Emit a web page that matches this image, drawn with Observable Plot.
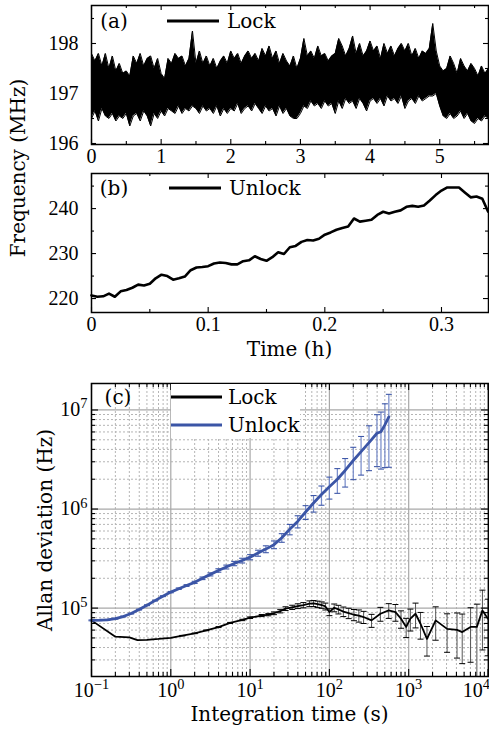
<!DOCTYPE html>
<html><head><meta charset="utf-8">
<script src="https://cdn.jsdelivr.net/npm/d3@7"></script>
<script src="https://cdn.jsdelivr.net/npm/@observablehq/plot@0.6"></script>
<style>
body{margin:0;background:#fff;}
#wrap{width:489px;height:733px;overflow:hidden;font-family:"Liberation Serif",serif;background:#fff;}
#wrap > svg{display:block;}
</style></head><body>
<div id="wrap"></div>
<script>
// ---------- DATA ----------
// (a) Lock: frequency envelope (MHz), sampled every 0.05 h from 0 to 5.7 h
const lockStepH = 0.05;
const lockHi = [197.8,197.65,197.8,197.55,197.8,197.5,197.75,197.45,197.6,197.4,197.45,197.35,197.75,197.6,197.8,197.55,197.7,197.75,197.5,197.7,
197.4,197.3,197.7,197.6,197.8,197.7,197.75,197.55,197.7,198.25,197.6,197.85,197.6,197.75,197.55,197.7,197.5,197.65,197.75,197.6,
197.85,197.7,197.8,197.6,197.75,197.85,197.7,197.8,197.65,197.9,197.75,197.95,197.7,197.85,197.6,197.8,197.65,197.55,197.75,197.5,
197.7,198.1,197.75,197.85,197.7,197.95,197.75,197.8,197.65,197.75,197.8,198.1,197.95,197.75,197.9,198.15,197.8,198.0,197.75,197.85,
198.05,197.85,197.95,197.7,198.0,197.8,197.95,197.75,197.9,198.0,197.85,198.0,197.75,197.9,197.7,197.85,197.8,197.9,198.4,197.85,
197.55,197.45,197.5,197.75,197.6,197.4,197.7,197.55,197.45,197.6,197.5,197.35,197.55,197.4,197.5];
const lockLo = [196.5,196.65,196.45,196.7,196.55,196.5,196.6,196.45,196.55,196.5,196.6,196.35,196.55,196.6,196.45,196.65,196.55,196.35,196.6,196.5,
196.65,196.55,196.7,196.65,196.6,196.75,196.6,196.7,196.65,196.75,196.7,196.6,196.75,196.65,196.7,196.6,196.75,196.55,196.7,196.6,
196.7,196.65,196.8,196.6,196.7,196.75,196.65,196.8,196.7,196.6,196.75,196.65,196.7,196.55,196.75,196.6,196.7,196.55,196.5,196.5,
196.6,196.75,196.7,196.85,196.75,196.8,196.7,196.85,196.75,196.8,196.6,196.85,196.7,196.9,196.8,196.85,196.7,196.9,196.8,196.65,
196.85,196.9,196.8,196.9,196.75,196.95,196.85,196.9,196.8,196.95,196.7,196.85,196.9,196.8,196.95,196.85,196.9,196.95,196.95,197.0,
196.75,196.55,196.5,196.6,196.5,196.55,196.65,196.5,196.6,196.45,196.4,196.5,196.45,196.55,196.5];

// (b) Unlock: frequency (MHz), sampled every 0.005 h from 0 to 0.34 h
const unlockStepH = 0.005;
const unlockFreq = [220.7,220.4,220.5,221.1,220.4,221.6,221.9,222.4,223.1,222.9,
223.3,224.5,225.3,225.0,224.2,224.5,224.9,226.3,226.9,227.0,
227.2,227.8,228.0,227.9,227.6,227.6,228.3,228.5,229.4,228.8,
228.4,229.2,230.3,229.9,231.4,231.7,232.6,233.0,232.9,233.3,
234.2,234.7,235.3,235.7,236.0,237.8,237.1,237.3,237.5,238.6,
239.3,238.9,239.3,239.6,240.4,240.6,240.4,240.7,241.8,243.0,
244.0,244.7,244.7,244.7,243.6,242.5,242.7,242.2,239.3];

// (c) Allan deviation (Hz) vs integration time (s)
const lockTau = [0.1,0.2,0.3,0.38,0.5,0.7,1,1.4,2,2.8,4,5.6,8,10,14,17,20,24,28,34,40,47,56,63,71,80,89,100,115,130,
150,175,204,235,270,340,440,560,680,800,930,1050,1220,1410,1700,2190,3050,4070,4730,6030,7240,8510,10000];
const lockSigma = [75200,51500,50700,47500,47900,48800,50100,52700,55600,59600,64300,70800,75900,80000,84100,86000,88700,93000,98800,101900,
104700,107200,110900,111500,109600,107500,104000,91200,100900,97000,92300,89000,85700,84000,81300,75200,87700,94800,91200,78200,
64600,78200,87700,69500,49000,75200,61700,60300,57300,64600,64600,94800,78000];
const lockErr = [0,0,0,0,0,0,0,300,400,500,700,900,1200,1500,2000,2400,2800,3500,4300,5000,
5800,6500,7400,7800,8000,8000,8300,7300,9100,9700,10200,10700,11100,11800,11400,11300,14000,16100,17500,15600,
14200,19500,24600,20900,16200,27800,25900,29000,29800,36200,45000,57000,45000];

const unlockTau = [0.1,0.126,0.158,0.2,0.251,0.316,0.398,0.501,0.631,0.794,1,1.26,1.58,2,2.51,3.16,3.98,5.01,6.31,7.94,
10,12.6,15.8,20,25.1,31.6,39.8,50.1,63.1,79.4,100,126,158,200,251,316,398,447,501,562];
const unlockSigma = [75200,75500,76200,78200,82200,88100,96600,107000,119000,132000,145000,157000,169000,182000,200000,219000,240000,260000,282000,302000,
327000,359000,394000,437000,513000,624000,750000,933000,1150000,1400000,1680000,2000000,2450000,3090000,3800000,4680000,5820000,6030000,7080000,8510000];
const unlockErr = [750,755,762,782,822,881,966,1070,1190,1320,2200,2800,3400,4500,6000,7700,9600,11700,14100,16600,
19600,25100,31500,39300,51300,74900,105000,149000,219000,308000,420000,560000,784000,1110000,1600000,2240000,3140000,3500000,4460000,5870000];

// tick labels
const aXTicks = [0,1,2,3,4,5], aYTicks = [196,197,198];
const bXTicks = [0,0.1,0.2,0.3], bYTicks = [220,230,240];
const cXTicks = [0.1,1,10,100,1000,10000], cYTicks = [1e5,1e6,1e7];
const legendA = ["(a)","Lock"], legendB = ["(b)","Unlock"], legendC = ["(c)","Lock","Unlock"];
const freqLabel = "Frequency (MHz)";

// ---------- helpers ----------
const FONT = "Liberation Serif";
const WFONT = "DejaVu Serif";
const W = 489, ML = 91, MR = 1;
const BLUE = "#3b55a6";
const style = {fontFamily: FONT, fontSize: "20px", background: "transparent", overflow: "visible", color: "#000"};
const plain = d => String(d);

function ticksX(vals, len, innerH, o = {}) {
  return [
    Plot.ruleX(vals, {x: d => d, insetTop: innerH - len, stroke: "#000", strokeWidth: 1.1, ...o}),
    Plot.ruleX(vals, {x: d => d, insetBottom: innerH - len, stroke: "#000", strokeWidth: 1.1, ...o})
  ];
}
function ticksY(vals, len, innerW, o = {}) {
  return [
    Plot.ruleY(vals, {y: d => d, insetRight: innerW - len, stroke: "#000", strokeWidth: 1.1, ...o}),
    Plot.ruleY(vals, {y: d => d, insetLeft: innerW - len, stroke: "#000", strokeWidth: 1.1, ...o})
  ];
}
function supify(svg) {
  d3.select(svg).selectAll("text").each(function () {
    const m = /^10\^(-?\d+)$/.exec(this.textContent);
    if (m) {
      this.textContent = "10";
      d3.select(this).append("tspan").attr("dy", "-0.55em").attr("font-size", "0.72em")
        .text(m[1].replace("-", "\u2212"));
    }
  });
}
function legend(svg, items) {
  const g = d3.select(svg).append("g").attr("font-family", WFONT).attr("font-size", 20).attr("fill", "#000");
  for (const it of items) {
    if (it.rect) g.append("rect").attr("x", it.x).attr("y", it.y).attr("width", it.w).attr("height", it.h).attr("fill", "#fff");
    else if (it.line) g.append("line").attr("x1", it.x1).attr("x2", it.x2).attr("y1", it.y).attr("y2", it.y)
      .attr("stroke", it.color).attr("stroke-width", it.sw || 3);
    else g.append("text").attr("transform", `translate(${it.x},${it.y})` + (it.rot ? ` rotate(${it.rot})` : ""))
      .attr("dominant-baseline", "central").attr("text-anchor", it.anchor || "start").text(it.text);
  }
}

const outer = d3.select("#wrap").append("svg").attr("width", W).attr("height", 733)
  .attr("viewBox", `0 0 ${W} 733`).style("background", "#fff");
function place(svg, top, H) {
  svg.setAttribute("x", 0);
  svg.setAttribute("y", top);
  svg.setAttribute("width", W);
  svg.setAttribute("height", H);
  svg.style.width = W + "px";
  svg.style.height = H + "px";
  svg.style.maxWidth = "none";
  svg.style.background = "transparent";
  svg.style.overflow = "visible";
  outer.node().append(svg);
}

// ---------- panel (a) ----------
const aData = lockHi.map((h, i) => ({t: i * lockStepH, hi: h, lo: lockLo[i]}));
{
  const H = 170, MT = 5, MB = 26, ih = H - MT - MB, iw = W - ML - MR;
  const svg = Plot.plot({
    width: W, height: H, marginLeft: ML, marginRight: MR, marginTop: MT, marginBottom: MB, style,
    x: {domain: [0, 5.7]}, y: {domain: [195.98, 198.76]},
    marks: [
      Plot.areaY(aData, {x: "t", y1: "lo", y2: "hi", fill: "#000"}),
      Plot.lineY(aData, {x: "t", y: "hi", stroke: "#000", strokeWidth: 1}),
      Plot.lineY(aData, {x: "t", y: "lo", stroke: "#000", strokeWidth: 1}),
      ...ticksX(aXTicks, 5, ih), ...ticksX([0.5,1.5,2.5,3.5,4.5,5.5], 3, ih),
      ...ticksY(aYTicks, 5, iw), ...ticksY([196.5,197.5,198.5], 3, iw),
      Plot.axisX(aXTicks, {tickSize: 0, tickPadding: 4, label: null, tickFormat: plain}),
      Plot.axisY(aYTicks, {tickSize: 0, tickPadding: 13, label: null, tickFormat: plain}),
      Plot.frame({stroke: "#000", strokeWidth: 1.5})
    ]
  });
  legend(svg, [
    {x: 114, y: 21, text: legendA[0], anchor: "middle"},
    {line: true, x1: 167, x2: 219, y: 21, color: "#000"},
    {x: 227, y: 21, text: legendA[1]}
  ]);
  place(svg, 0, H);
}

// ---------- panel (b) ----------
const bData = unlockFreq.map((f, i) => ({t: i * unlockStepH, f}));
{
  const H = 200, MT = 5, MB = 56, ih = H - MT - MB, iw = W - ML - MR;
  const svg = Plot.plot({
    width: W, height: H, marginLeft: ML, marginRight: MR, marginTop: MT, marginBottom: MB, style,
    x: {domain: [0, 0.3403]}, y: {domain: [216.9, 247.8]},
    marks: [
      Plot.lineY(bData, {x: "t", y: "f", stroke: "#000", strokeWidth: 2.6, strokeLinejoin: "round"}),
      ...ticksX(bXTicks, 5, ih), ...ticksX([0.05,0.15,0.25], 3, ih),
      ...ticksY(bYTicks, 5, iw), ...ticksY([225,235,245], 3, iw),
      Plot.axisX(bXTicks, {tickSize: 0, tickPadding: 4, tickFormat: plain, label: null}),
      Plot.axisY(bYTicks, {tickSize: 0, tickPadding: 13, tickFormat: plain, label: null}),
      Plot.frame({stroke: "#000", strokeWidth: 1.5})
    ]
  });
  legend(svg, [
    {x: 114, y: 20, text: legendB[0], anchor: "middle"},
    {line: true, x1: 169, x2: 221, y: 20, color: "#000"},
    {x: 229, y: 20, text: legendB[1]},
    {x: 289.5, y: 181, text: "Time (h)", anchor: "middle"}
  ]);
  place(svg, 168, H);
}

// ---------- panel (c) ----------
const lockData = lockTau.map((t, i) => ({t, s: lockSigma[i], e: lockErr[i]}));
const unlockData = unlockTau.map((t, i) => ({t, s: unlockSigma[i], e: unlockErr[i]}));
{
  const H = 355, MT = 5, MB = 57, ih = H - MT - MB, iw = W - ML - MR;
  const xDom = [0.1, 10150], yDom = [20400, 1.85e7];
  const minorX = [], minorY = [];
  for (let k = -1; k <= 4; k++) for (let m = 2; m <= 9; m++) { const v = m * 10 ** k; if (v > xDom[0] && v < xDom[1]) minorX.push(v); }
  for (let k = 4; k <= 7; k++) for (let m = 2; m <= 9; m++) { const v = m * 10 ** k; if (v > yDom[0] && v < yDom[1]) minorY.push(v); }
  const capSym = {draw(ctx) { ctx.moveTo(-3, 0); ctx.lineTo(3, 0); }};
  const lockBars = lockData.filter(d => d.e > 0);
  const fmt = d => "10^" + Math.round(Math.log10(d));
  const svg = Plot.plot({
    width: W, height: H, marginLeft: ML, marginRight: MR, marginTop: MT, marginBottom: MB, style,
    x: {type: "log", domain: xDom}, y: {type: "log", domain: yDom},
    marks: [
      Plot.ruleX(minorX, {x: d => d, stroke: "#b5b5b5", strokeDasharray: "2,2"}),
      Plot.ruleY(minorY, {y: d => d, stroke: "#b5b5b5", strokeDasharray: "2,2"}),
      Plot.ruleX(cXTicks, {x: d => d, stroke: "#a8a8a8", strokeWidth: 1.2}),
      Plot.ruleY(cYTicks, {y: d => d, stroke: "#a8a8a8", strokeWidth: 1.2}),
      // lock
      Plot.link(lockBars, {x1: "t", x2: "t", y1: d => d.s - d.e, y2: d => d.s + d.e, stroke: "#555", strokeWidth: 1, clip: true}),
      Plot.dot(lockBars, {x: "t", y: d => d.s + d.e, symbol: capSym, stroke: "#000", strokeWidth: 1, fill: "none", clip: true}),
      Plot.dot(lockBars, {x: "t", y: d => d.s - d.e, symbol: capSym, stroke: "#000", strokeWidth: 1, fill: "none", clip: true}),
      Plot.line(lockData, {x: "t", y: "s", stroke: "#000", strokeWidth: 1.8, clip: true}),
      // unlock
      Plot.link(unlockData, {x1: "t", x2: "t", y1: d => d.s - d.e, y2: d => d.s + d.e, stroke: "#7489c9", strokeWidth: 1.2}),
      Plot.dot(unlockData, {x: "t", y: d => d.s + d.e, symbol: capSym, stroke: "#3f58a8", strokeWidth: 1.1, fill: "none"}),
      Plot.dot(unlockData, {x: "t", y: d => d.s - d.e, symbol: capSym, stroke: "#3f58a8", strokeWidth: 1.1, fill: "none"}),
      Plot.line(unlockData, {x: "t", y: "s", stroke: BLUE, strokeWidth: 2.8}),
      // frame ticks
      ...ticksX(cXTicks, 7, ih), ...ticksX(minorX, 4, ih),
      ...ticksY(cYTicks, 7, iw), ...ticksY(minorY, 4, iw),
      Plot.axisX(cXTicks.slice(0, 5), {tickSize: 0, tickPadding: 6, tickFormat: fmt, label: null}),
      Plot.axisX(cXTicks.slice(5), {tickSize: 0, tickPadding: 6, tickFormat: fmt, textAnchor: "end", dx: 2, label: null}),
      Plot.axisY(cYTicks, {tickSize: 0, tickPadding: 4, tickFormat: fmt, label: null}),
      Plot.frame({stroke: "#000", strokeWidth: 1.5})
    ]
  });
  supify(svg);
  legend(svg, [
    {rect: true, x: 171, y: 6, w: 129, h: 54},
    {x: 118, y: 19, text: legendC[0], anchor: "middle"},
    {line: true, x1: 171, x2: 222, y: 19, color: "#000"},
    {x: 228, y: 19, text: legendC[1]},
    {line: true, x1: 171, x2: 222, y: 47, color: BLUE},
    {x: 228, y: 47, text: legendC[2]},
    {x: 289.5, y: 336, text: "Integration time (s)", anchor: "middle"},
    {x: 45, y: 152, text: "Allan deviation (Hz)", anchor: "middle", rot: -90}
  ]);
  place(svg, 378, H);
}

// shared y label of panels (a) and (b)
legend(outer.node(), [{x: 18, y: 168, text: freqLabel, anchor: "middle", rot: -90}]);
</script>
</body></html>
